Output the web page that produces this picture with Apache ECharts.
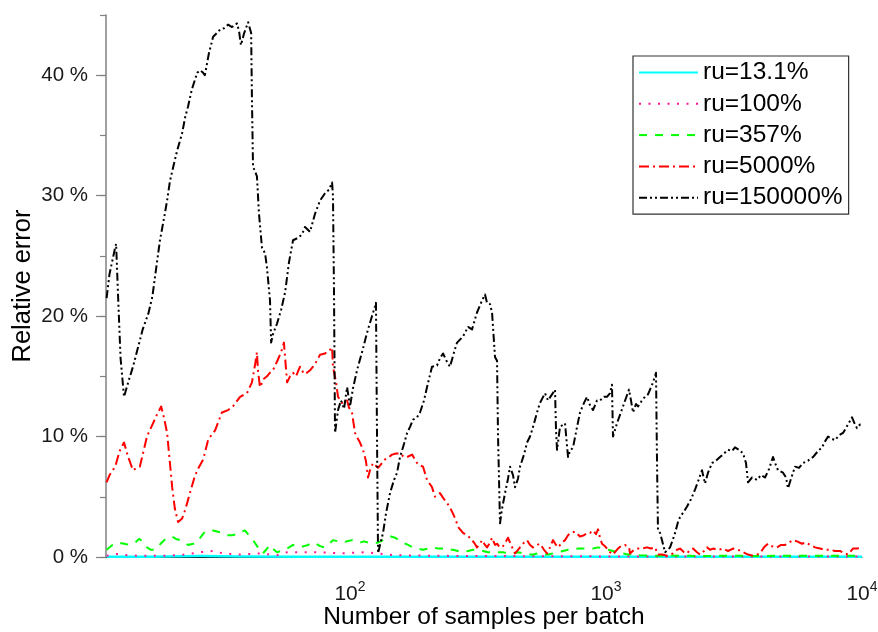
<!DOCTYPE html>
<html><head><meta charset="utf-8">
<script src="https://cdn.jsdelivr.net/npm/echarts@6/dist/echarts.min.js"></script>
<style>html,body{margin:0;padding:0;background:#fff}#c{width:878px;height:632px}</style>
</head><body><div id="c"></div>
<script>
const seriesNames = ['ru=13.1%', 'ru=100%', 'ru=357%', 'ru=5000%', 'ru=150000%'];
const xTickLabels = [100, 1000, 10000];
const yTickLabels = [0, 10, 20, 30, 40];

// ru=150000% (black)
const xBlack = [
 11.2,11.5,12.1,12.2,12.4,12.7,13.1,13.6,14.2,14.9,
 15.5,16.3,16.9,17.5,18.1,18.8,19.3,19.8,20.4,21.1,
 22.1,22.7,23.3,24.1,25.3,26.0,26.7,27.1,28.1,29.2,
 30.2,31.1,32.2,33.4,34.6,36.2,36.9,37.5,38.6,40.0,
 41.1,41.4,41.8,42.6,43.3,44.1,45.3,46.6,47.4,48.7,
 49.2,50.0,51.9,53.8,55.8,57.8,59.9,62.7,65.0,66.7,
 69.8,73.0,76.4,79.9,82.8,85.1,85.8,86.6,87.4,89.8,
 92.2,94.8,97.4,100,102.7,106.5,111.4,116.5,121.9,125.2,
 126.3,127.5,128.7,131,134.6,138.2,143.3,148.6,152.7,156.8,
 162.6,167.1,171.6,176.3,182.8,187.7,194.6,199.9,209.1,218.7,
 224.7,230.9,239.3,245.8,254.9,261.9,276.3,289.1,299.7,313.4,
 327.9,336.8,343.0,352.3,358.8,368.5,375.3,378.7,385.5,392.5,
 403.2,414.2,421.7,433.3,441.1,453.2,461.4,478.4,491.5,504.9,
 518.8,537.8,552.4,577.8,593.6,615.4,632.2,638.0,643.8,661.2,
 691.7,710.7,723.5,743.4,770.7,791.6,820.6,843.1,866.0,889.7,
 922.4,947.5,982.2,1009,1037,1055,1065,1104,1134,1165,
 1197,1230,1252,1275,1310,1334,1382,1420,1459,1486,
 1527,1568,1582,1596,1626,1655,1700,1748,1779,1828,
 1861,1911,1946,2018,2073,2148,2227,2309,2371,2436,
 2503,2596,2690,2788,2891,2997,3106,3191,3308,3430,
 3523,3588,3719,3890,4032,4179,4333,4491,4614,4699,
 4915,5049,5141,5281,5475,5675,5883,6154,6438,6734,
 6981,7171,7368,7638,7846,8134,8431,8818,9141,9391,
 9560,9822,10000
];
const yBlack = [
 21.5,23.5,25.7,26.0,22.0,16.5,13.3,14.5,15.8,17.5,
 18.9,20.2,21.6,24.0,26.3,28.2,29.6,31.2,32.4,33.7,
 35.2,36.5,37.4,38.8,40.2,40.4,40.2,40.0,41.8,43.2,
 43.5,43.8,43.9,44.2,44.0,44.3,43.6,42.5,43.5,44.4,
 43.5,38.0,32.4,32.0,31.6,28.5,25.7,25.2,24.0,21.3,
 17.8,18.5,19.4,20.5,22.0,24.5,26.3,26.5,26.8,27.4,
 27.0,28.5,29.6,30.2,30.5,31.1,30.0,22.0,10.3,12.2,
 13.0,12.3,14.1,12.5,14.0,15.5,17.0,18.6,20.0,20.8,
 21.1,10.0,0.3,1.0,2.0,3.6,5.3,6.4,7.0,8.3,
 9.4,10.3,10.8,11.4,11.6,12.0,13.0,14.1,15.8,15.9,
 16.5,16.9,16.2,15.8,17.0,17.8,18.3,19.1,18.9,20.3,
 21.3,21.8,21.1,21.0,20.3,16.6,16.3,10.0,2.8,4.0,
 5.3,6.5,7.5,6.8,5.8,6.5,7.5,8.5,9.5,10.0,
 10.8,12.0,12.8,13.6,13.0,13.5,13.9,10.5,8.9,10.8,
 11.1,8.3,8.8,9.1,10.8,12.0,12.8,13.3,12.6,12.2,
 13.0,13.0,13.3,13.3,13.6,14.3,10.0,11.1,11.8,12.5,
 13.2,13.9,13.0,12.0,12.7,12.5,13.0,13.3,13.5,13.9,
 14.5,15.3,8.0,2.2,2.0,1.4,0.4,0.6,0.8,1.5,
 2.0,2.9,3.3,3.8,4.2,4.8,5.6,6.5,7.2,6.1,
 7.0,7.8,8.0,8.3,8.6,8.9,8.8,9.1,8.9,8.6,
 7.8,6.2,6.6,6.4,6.8,6.6,7.3,8.3,7.6,7.2,
 7.0,6.6,5.7,6.5,7.5,7.4,7.8,8.0,8.3,8.8,
 9.1,9.6,10.0,9.8,9.7,10.1,10.3,11.0,11.6,11.0,
 10.7,11.0,10.8
];

// ru=5000% (red)
const xRed = [
 11.2,11.5,12.1,12.6,13.1,13.6,14.2,14.7,15.1,15.7,
 16.1,17.0,17.6,18.3,18.8,19.3,19.8,20.2,20.7,21.3,
 22.1,22.7,23.7,24.6,25.3,26.7,27.9,28.9,29.7,31.6,
 33.4,34.9,37.2,39.6,41.4,42.6,43.3,43.7,44.5,46.1,
 47.4,48.7,50.0,52.3,53.8,55.2,56.3,56.8,58.3,59.9,
 61.5,63.8,66.1,67.9,69.8,71.7,74.3,76.4,79.9,82.8,
 85.1,85.8,88.2,89.8,93.1,95.6,97.4,99.1,101.8,104.6,
 107.5,109.4,112.4,115.4,117.6,119.7,123.0,128.7,133.4,137.0,
 142.0,145.9,151.3,156.8,162.6,167.1,174.8,182.8,187.7,192.9,
 199.9,209.1,214.8,224.7,233.0,239.3,245.8,252.6,259.6,264.3,
 276.3,286.5,294.3,305.1,313.4,322.0,327.9,336.8,343.0,352.3,
 358.8,368.5,375.3,385.5,396.0,406.9,414.2,425.6,441.1,453.2,
 461.4,478.4,491.5,504.9,518.8,537.8,552.4,572.6,588.3,604.3,
 620.6,638.0,649.6,673.4,691.7,710.7,723.5,756.8,791.6,820.6,
 843.1,866.0,889.7,914.1,930.8,947.5,964.7,991.0,1009,1037,
 1065,1094,1114,1144,1186,1230,1241,1287,1334,1382,
 1446,1499,1554,1596,1655,1732,1828,1894,1946,2018,
 2073,2129,2187,2268,2330,2415,2481,2549,2619,2739,
 2865,2997,3134,3279,3430,3588,3753,3890,3996,4142,
 4294,4451,4656,4827,5004,5188,5378,5575,5830,6043,
 6266,6554,6856,7171,7500,7846,8206,8584,8818,8977,
 9224,9560,10000
];
const yRed = [
 6.2,6.8,7.5,8.8,9.5,8.3,7.2,7.4,7.5,9.0,
 10.0,11.1,11.8,12.5,11.5,10.3,7.8,5.8,4.0,2.9,
 3.2,3.9,5.3,6.5,7.2,8.1,9.7,10.2,10.5,12.0,
 12.2,12.5,13.3,13.6,14.5,16.0,17.0,15.5,14.1,14.8,
 15.0,15.3,15.5,16.4,17.0,17.8,15.5,14.5,15.0,15.3,
 15.0,15.8,15.2,15.3,15.5,15.8,16.3,16.8,16.9,17.1,
 17.4,15.8,14.5,13.3,12.8,13.0,13.0,12.4,12.0,10.3,
 9.8,9.5,8.9,8.0,6.6,7.2,7.8,7.4,7.8,8.1,
 8.3,8.5,8.6,8.6,8.3,8.3,8.5,7.8,7.6,7.5,
 6.4,5.8,5.0,5.3,4.8,4.5,4.1,3.6,3.0,2.5,
 2.0,1.8,1.6,1.2,0.8,1.1,1.4,1.0,0.8,1.2,
 1.6,1.0,1.1,0.8,0.9,1.3,1.6,1.0,0.3,0.6,
 0.8,1.2,1.4,1.0,0.8,1.0,1.1,0.6,0.3,0.8,
 1.4,1.0,0.8,1.2,1.4,1.8,2.0,2.1,1.7,1.8,
 2.0,2.0,2.2,1.9,2.3,1.6,1.1,0.9,0.7,0.4,
 0.2,0.5,0.7,0.9,1.0,0.8,0.3,0.6,0.7,0.7,
 0.8,0.7,0.8,0.2,0.2,0.1,0.3,0.6,0.7,0.4,
 0.3,0.6,0.7,0.4,0.2,0.5,0.8,0.6,0.7,0.6,
 0.7,0.5,0.7,0.6,0.4,0.2,0.1,0.2,0.3,0.8,
 1.1,0.9,0.8,1.0,1.0,1.2,1.4,1.3,1.1,1.2,
 1.0,0.8,0.7,0.6,0.6,0.5,0.5,0.3,0.2,0.4,
 0.7,0.7,0.8
];

// ru=357% (green)
const xGreen = [
 11.2,11.8,12.4,13.1,13.8,14.5,15.0,15.5,16.1,16.7,
 17.3,18.4,19.3,20.2,20.9,21.7,22.5,23.3,24.4,25.3,
 26.2,27.1,28.1,29.2,30.5,31.6,33.1,34.6,36.2,37.5,
 38.9,40.3,41.8,43.7,45.7,47.0,48.7,50.5,51.9,53.8,
 55.8,57.8,59.9,62.1,63.8,66.1,68.6,71.1,73.7,76.4,
 79.2,82.1,85.8,89.8,93.1,97.4,101.8,105.5,109.4,113.4,
 117.6,123.0,128.7,134.6,139.4,144.6,149.9,155.4,161.1,168.6,
 176.3,184.4,192.9,201.8,211.0,220.7,230.9,241.5,252.6,264.3,
 276.3,289.1,302.4,316.3,330.8,346.1,362.0,378.7,396.0,414.2,
 433.3,453.2,474.2,496.0,518.8,542.7,567.5,593.6,620.6,649.6,
 679.3,710.7,743.4,777.7,813.4,850.8,889.7,930.8,973.5,1018,
 1065,1114,1165,1219,1275,1358,1486,1626,1779,1946,
 2129,2330,2788,3338,3996,4784,5726,6856,8206,10000
];
const yGreen = [
 0.6,1.0,1.2,1.1,1.0,1.2,1.5,1.3,0.8,0.6,
 0.6,1.2,1.6,1.7,1.5,1.4,1.2,1.0,1.1,1.2,
 1.7,2.1,2.2,2.2,2.1,2.0,1.8,1.8,1.9,2.1,
 2.2,1.8,1.4,0.8,0.3,0.6,1.0,0.6,0.4,0.5,
 0.6,0.8,1.0,0.9,0.8,0.9,1.0,1.2,1.1,0.9,
 0.8,1.0,1.4,1.3,1.2,1.3,1.4,1.3,1.2,1.3,
 1.2,1.1,1.2,1.4,1.6,1.7,1.6,1.4,1.2,1.0,
 0.8,0.7,0.6,0.7,0.8,0.7,0.7,0.6,0.6,0.5,
 0.4,0.5,0.6,0.6,0.5,0.4,0.4,0.4,0.4,0.3,
 0.3,0.4,0.3,0.2,0.2,0.3,0.2,0.2,0.3,0.4,
 0.5,0.6,0.6,0.7,0.7,0.7,0.7,0.8,0.7,0.6,
 0.5,0.3,0.3,0.2,0.2,0.15,0.1,0.1,0.12,0.1,
 0.1,0.08,0.1,0.1,0.08,0.1,0.1,0.1,0.1,0.1
];

// ru=100% (magenta)
const xMagenta = [11.2,12.3,13.5,15.1,18.1,21.7,26.0,29.2,31.9,37.2,44.5,51.9,56.8,63.8,76.4,91.4,116.5,147.3,211.0,322.0,504.9,947.5,2330,5726,10000];
const yMagenta = [0.1,0.25,0.15,0.1,0.1,0.15,0.4,0.5,0.3,0.2,0.3,0.15,0.4,0.4,0.4,0.3,0.4,0.15,0.1,0.08,0.07,0.05,0.05,0.05,0.05];

// ru=13.1% (cyan)
const xCyan = [11.2,16.6,26.0,37.2,63.8,156.8,947.5,10000];
const yCyan = [0.02,0.03,0.08,0.05,0.03,0.02,0.02,0.02];

function pairs(xs, ys) { const n = Math.min(xs.length, ys.length); const out = []; for (let i = 0; i < n; i++) out.push([xs[i], ys[i]]); return out; }

const FONT = '"Liberation Sans", Arial, Helvetica, sans-serif';
const chart = echarts.init(document.getElementById('c'), null, { renderer: 'canvas' });

const styles = [
  { color: '#00FFFF', width: 2.5, type: 'solid' },
  { color: '#FF1493', width: 2, type: [2, 7.5] },
  { color: '#00FF00', width: 2, type: [8, 8] },
  { color: '#FF0000', width: 2, type: [10, 4, 2, 4] },
  { color: '#000000', width: 2, type: [8, 3, 2, 3, 2, 3] }
];
const datas = [pairs(xCyan, yCyan), pairs(xMagenta, yMagenta), pairs(xGreen, yGreen), pairs(xRed, yRed), pairs(xBlack, yBlack)];

const option = {
  animation: false,
  backgroundColor: '#ffffff',
  textStyle: { fontFamily: FONT },
  grid: { left: 106, right: 16, top: 15, bottom: 75, containLabel: false, outerBoundsMode: 'none' },
  legend: {
    orient: 'vertical', left: 633, top: 56,
    padding: [4, 6, 4, 5],
    itemWidth: 59, itemHeight: 14, itemGap: 6.3,
    backgroundColor: '#ffffff', borderColor: '#333333', borderWidth: 1.2,
    itemStyle: { color: 'rgba(0,0,0,0)', borderWidth: 0, opacity: 0 },
    textStyle: { fontSize: 24.5, color: '#000', fontFamily: FONT },
    data: seriesNames
  },
  xAxis: {
    type: 'log', logBase: 10, min: 11.14, max: 10000,
    axisLine: { show: true, lineStyle: { color: '#000', width: 1 } },
    axisTick: { show: false },
    splitLine: { show: false },
    axisLabel: {
      margin: 23,
      formatter: function (v) {
        for (const t of xTickLabels) {
          if (Math.abs(v - t) / t < 1e-6) return '{b|10}{s|' + Math.round(Math.log10(t)) + '}';
        }
        return '';
      },
      rich: {
        b: { fontSize: 21, color: '#1a1a1a', fontFamily: FONT },
        s: { fontSize: 14, color: '#1a1a1a', fontFamily: FONT, padding: [0, 0, 14, 0] }
      }
    },
    name: 'Number of samples per batch', nameLocation: 'middle', nameGap: 48, nameMoveOverlap: false,
    nameTextStyle: { fontSize: 24.5, color: '#000', fontFamily: FONT }
  },
  yAxis: [
    {
      type: 'value', min: 0, max: 45, interval: 5, position: 'left',
      axisLine: { show: true, lineStyle: { color: '#808080', width: 1.5 } },
      axisTick: { show: true, length: 6, lineStyle: { color: '#808080', width: 1.2 } },
      splitLine: { show: false },
      axisLabel: {
        margin: 18, fontSize: 20.5, color: '#1a1a1a', fontFamily: FONT,
        formatter: function (v) { return yTickLabels.indexOf(v) >= 0 ? v + ' %' : ''; }
      },
      name: 'Relative error', nameLocation: 'middle', nameGap: 70, nameMoveOverlap: false,
      nameTextStyle: { fontSize: 25.5, color: '#000', fontFamily: FONT }
    },
    {
      type: 'value', min: 0, max: 45, interval: 5, position: 'left',
      axisLine: { show: false },
      axisTick: { show: true, length: 10, customValues: yTickLabels, lineStyle: { color: '#808080', width: 1.2 } },
      axisLabel: { show: false },
      splitLine: { show: false }
    }
  ],
  series: seriesNames.map(function (name, i) {
    return {
      name: name, type: 'line', data: datas[i], yAxisIndex: 0,
      showSymbol: false, symbol: 'none', smooth: false,
      lineStyle: { color: styles[i].color, width: styles[i].width, type: styles[i].type, join: 'round' },
      itemStyle: { color: styles[i].color },
      z: 2 + i
    };
  })
};
chart.setOption(option);
</script>
</body></html>
